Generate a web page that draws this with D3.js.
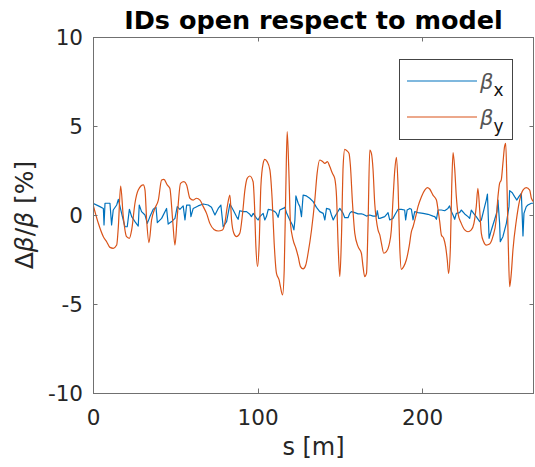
<!DOCTYPE html>
<html>
<head>
<meta charset="utf-8">
<script src="https://cdn.jsdelivr.net/npm/d3@7"></script>
<style>
  body { margin: 0; background: #fff; }
  svg { display: block; }
  text { font-family: "DejaVu Sans", sans-serif; fill: #262626; }
</style>
</head>
<body>
<svg id="chart" width="535" height="467"></svg>
<script>
// Beta-beating along the ring (s in metres, values in %)
const sX = [0.0,4.2,6.3,6.7,7.3,10.3,11.3,12.3,14.4,15.4,17.4,19.4,20.8,22.1,23.5,25.5,27.5,28.1,29.5,31.6,33.0,34.6,36.6,38.3,39.1,41.7,44.7,45.7,47.8,49.8,51.2,52.8,54.8,55.9,56.9,58.9,59.5,60.9,63.9,67.0,70.0,72.0,74.1,76.1,77.7,79.1,81.2,83.2,85.2,87.2,88.2,89.2,91.3,93.3,95.3,96.3,97.4,99.4,100.4,101.4,103.4,104.4,105.4,106.5,108.5,110.5,111.5,112.5,113.5,115.6,116.6,117.6,119.6,121.2,122.1,122.7,123.3,124.7,125.7,126.7,127.7,129.7,131.7,133.8,135.8,137.8,139.9,140.9,141.9,143.9,144.9,146.0,147.0,148.4,150.0,152.0,153.0,155.0,156.0,157.0,159.1,161.1,163.1,164.1,166.2,168.2,170.2,172.2,172.8,173.6,174.3,177.3,178.7,179.3,180.3,182.3,183.4,185.4,187.4,189.4,190.0,190.9,192.5,193.5,194.5,195.5,197.5,200.6,203.6,206.6,207.7,208.7,209.7,211.7,213.7,215.7,216.7,217.8,218.8,219.8,220.8,222.8,223.8,225.9,227.9,228.9,229.9,231.3,232.9,235.0,236.0,238.0,239.0,239.7,240.7,242.1,244.0,245.5,246.1,247.1,247.5,249.1,251.2,252.8,253.2,254.8,256.2,257.6,258.8,260.3,261.3,261.9,263.3,264.3,266.4,267.8];
const betaX = [0.66,0.47,0.37,-0.56,0.66,0.66,-0.56,0.28,0.56,0.88,0.09,-0.66,-0.66,0.32,-0.09,-0.37,-0.62,0.56,0.19,0.00,-0.47,-0.09,0.32,0.43,-0.43,-0.19,0.37,-0.51,-0.37,-0.19,0.47,0.32,0.51,-0.28,0.56,0.56,-0.09,0.37,0.51,0.62,0.56,0.43,0.00,0.37,0.56,-0.66,-0.37,0.62,0.28,-0.09,-0.24,0.24,0.19,0.19,0.04,-0.09,0.09,-0.19,-0.28,-0.09,0.09,-0.28,-0.09,0.32,0.28,0.19,0.09,-0.13,0.28,0.37,0.43,0.13,-0.28,-0.56,-0.84,-0.28,1.07,0.66,0.47,-0.09,1.12,1.07,0.94,0.75,0.43,0.19,0.09,-0.28,0.37,0.32,0.00,-0.28,-0.09,0.13,0.37,0.09,-0.15,-0.15,0.09,0.19,0.13,0.06,0.06,0.04,-0.06,0.00,-0.06,-0.06,0.24,-0.19,-0.19,-0.09,0.06,0.13,-0.28,-0.19,0.00,0.32,0.32,0.28,-0.28,0.28,0.37,0.32,-0.28,0.19,0.13,0.09,0.04,-0.06,-0.09,-0.24,0.28,0.28,0.24,0.37,0.51,0.19,0.00,-0.24,0.09,0.13,0.28,0.06,-0.09,-0.19,0.28,0.09,-0.09,-0.37,-0.28,0.47,0.84,1.18,-1.31,-0.84,-0.28,0.19,0.84,-0.47,-1.50,-1.22,-0.47,0.47,1.37,1.25,1.03,0.84,1.03,1.22,-1.18,0.09,0.47,0.56,0.66,0.66];

const sY = [0.0,3.2,6.3,8.3,10.3,12.3,14.4,15.4,16.8,18.4,20.4,22.1,23.5,25.5,27.5,30.6,31.6,32.6,34.0,35.6,37.6,39.7,41.7,43.1,45.1,46.7,48.4,49.8,51.2,53.2,55.3,56.9,58.9,60.9,62.9,65.0,67.0,69.0,71.0,73.5,76.1,78.7,80.1,81.6,83.2,84.2,85.6,87.2,89.2,90.9,92.3,93.7,95.3,97.3,98.1,99.0,100.0,101.0,102.0,103.4,104.4,105.8,107.5,108.9,110.1,111.5,113.1,113.9,115.2,116.2,117.2,118.0,119.0,120.0,121.6,123.3,124.7,126.1,127.7,129.3,130.7,132.8,134.8,136.2,137.8,139.5,140.9,142.5,143.9,145.5,146.9,148.0,149.0,150.0,151.0,152.0,153.0,154.4,155.6,156.4,157.7,159.1,161.1,163.1,164.1,165.1,166.2,167.2,168.2,169.2,170.2,171.2,172.2,173.2,174.3,175.3,176.7,178.3,179.9,181.3,182.3,183.4,184.4,185.4,186.4,187.4,188.8,190.4,192.1,193.5,194.5,196.1,197.5,199.6,201.6,203.2,204.6,206.6,208.7,209.7,210.7,211.7,213.1,214.3,215.3,216.1,217.2,218.0,218.8,219.8,220.8,221.8,223.8,225.9,227.9,229.9,231.5,232.9,233.9,235.0,236.0,237.4,239.0,241.0,243.0,245.0,246.1,247.1,248.1,249.1,250.1,250.8,251.6,252.4,253.2,254.2,255.2,257.3,259.3,261.3,263.3,265.4,266.4,267.8];
const betaY = [0.60,-0.45,-1.22,-1.50,-1.82,-1.87,-1.69,-0.66,1.63,-0.09,-1.22,-1.31,-0.84,0.66,1.40,1.69,1.40,-0.28,-1.55,-0.28,0.37,0.84,1.97,2.00,1.69,1.50,-0.28,-1.69,-0.09,1.78,1.87,1.69,0.94,0.84,0.94,0.84,0.47,0.09,-0.47,-0.81,-0.90,-0.84,-0.47,0.47,1.12,-0.28,-1.03,-1.22,-1.03,0.09,1.40,2.06,2.19,1.87,0.66,-1.78,-2.90,-1.59,1.59,2.90,3.13,3.00,2.53,0.84,-1.59,-3.28,-3.65,-4.03,-4.49,-3.09,1.59,4.68,2.53,-0.47,-1.40,-1.87,-2.34,-2.90,-3.03,-2.81,-2.15,-0.84,0.84,2.34,3.09,3.00,2.90,3.00,2.72,2.34,2.06,1.03,-1.78,-3.46,-1.22,2.72,3.69,3.60,3.46,2.81,0.66,-1.03,-1.78,-2.15,-2.90,-3.46,-3.28,-0.28,3.65,3.46,2.53,0.66,-0.28,-0.84,-1.12,-1.59,-2.15,-2.06,-1.69,-0.84,0.84,2.53,3.24,1.59,-1.78,-3.05,-2.90,-2.53,-1.78,-0.94,-0.66,-0.09,0.47,1.03,1.40,1.54,1.46,1.12,0.84,0.28,-0.37,-1.12,-1.31,-1.78,-2.53,-3.28,-1.78,1.59,3.50,2.62,1.03,0.09,-0.47,-0.84,-0.94,-0.84,-0.47,0.47,1.50,0.28,-1.03,-1.50,-1.69,-1.63,-1.22,-0.28,1.03,1.78,1.97,2.90,3.84,4.03,1.59,-1.78,-4.03,-3.28,-1.97,-0.28,0.84,1.40,1.54,1.40,0.94,0.75];

const xTicks = [0, 100, 200];
const yTicks = [-10, -5, 0, 5, 10];
const seriesNames = ["x", "y"];
const seriesColors = ["#0072BD", "#D95319"];

const svg = d3.select("#chart");
const plot = { left: 93, top: 37, right: 534, bottom: 393 };
const axisColor = "#707070";
const tickLen = 4.5;

const x = d3.scaleLinear().domain([0, 268]).range([plot.left, plot.right]);
const y = d3.scaleLinear().domain([-10, 10]).range([plot.bottom, plot.top]);

svg.append("defs").append("clipPath").attr("id", "plotClip")
  .append("rect")
  .attr("x", plot.left).attr("y", plot.top)
  .attr("width", plot.right - plot.left).attr("height", plot.bottom - plot.top);

// Series
const lineX = d3.line().x((d, i) => x(sX[i])).y(d => y(d));
const lineY = d3.line().x((d, i) => x(sY[i])).y(d => y(d)).curve(d3.curveMonotoneX);

const g = svg.append("g").attr("clip-path", "url(#plotClip)");
g.append("path").attr("d", lineX(betaX))
  .attr("fill", "none").attr("stroke", seriesColors[0]).attr("stroke-width", 1.2)
  .attr("stroke-linejoin", "round");
g.append("path").attr("d", lineY(betaY))
  .attr("fill", "none").attr("stroke", seriesColors[1]).attr("stroke-width", 1.2)
  .attr("stroke-linejoin", "round");

// Axes: bottom and left carry labels, top and right only ticks
const bottomAxis = d3.axisBottom(x).tickValues(xTicks).tickSize(0).tickPadding(0).tickFormat(d3.format("d"));
const leftAxis = d3.axisLeft(y).tickValues(yTicks).tickSize(0).tickPadding(0).tickFormat(d3.format("d"));

const gb = svg.append("g").attr("transform", `translate(0,${plot.bottom})`).call(bottomAxis);
gb.select(".domain").remove();
gb.selectAll("text").attr("y", 32).attr("dy", 0).style("font-size", "21.5px");

const gl = svg.append("g").attr("transform", `translate(${plot.left},0)`).call(leftAxis);
gl.select(".domain").remove();
gl.selectAll("text").attr("x", -10).attr("dy", "0.36em").style("font-size", "21.5px")
  .text(d => d < 0 ? "-" + Math.abs(d) : d);

// Inward ticks on all four sides
const ticks = svg.append("g").attr("stroke", axisColor).attr("stroke-width", 1);
xTicks.forEach(v => {
  const px = Math.round(x(v)) + 0.5;
  ticks.append("line").attr("x1", px).attr("x2", px).attr("y1", plot.bottom).attr("y2", plot.bottom - tickLen);
  ticks.append("line").attr("x1", px).attr("x2", px).attr("y1", plot.top).attr("y2", plot.top + tickLen);
});
yTicks.forEach(v => {
  const py = Math.round(y(v)) + 0.5;
  ticks.append("line").attr("x1", plot.left).attr("x2", plot.left + tickLen).attr("y1", py).attr("y2", py);
  ticks.append("line").attr("x1", plot.right).attr("x2", plot.right - tickLen).attr("y1", py).attr("y2", py);
});

// Box
svg.append("rect")
  .attr("x", plot.left + 0.5).attr("y", plot.top + 0.5)
  .attr("width", plot.right - plot.left - 1).attr("height", plot.bottom - plot.top)
  .attr("fill", "none").attr("stroke", axisColor).attr("stroke-width", 1);

// Title
svg.append("text")
  .attr("x", (plot.left + plot.right) / 2).attr("y", 29)
  .attr("text-anchor", "middle")
  .style("font-size", "25.5px").style("font-weight", "bold")
  .style("fill", "#000")
  .text("IDs open respect to model");

// Axis labels
svg.append("text")
  .attr("x", (plot.left + plot.right) / 2).attr("y", 455)
  .attr("text-anchor", "middle")
  .style("font-size", "24px")
  .text("s [m]");

const yl = svg.append("text")
  .attr("transform", `translate(33,${(plot.top + plot.bottom) / 2}) rotate(-90)`)
  .attr("text-anchor", "middle")
  .style("font-size", "25px");
yl.append("tspan").text("Δ");
yl.append("tspan").style("font-style", "italic").text("β");
yl.append("tspan").text("/");
yl.append("tspan").style("font-style", "italic").text("β");
yl.append("tspan").text(" [%]");

// Legend
const leg = svg.append("g");
leg.append("rect").attr("x", 399.5).attr("y", 59.5).attr("width", 113).attr("height", 80)
  .attr("fill", "#fff").attr("stroke", "#444").attr("stroke-width", 1);
seriesNames.forEach((name, i) => {
  const ly = 81 + i * 36;
  leg.append("line").attr("x1", 407).attr("x2", 477).attr("y1", ly).attr("y2", ly)
    .attr("stroke", seriesColors[i]).attr("stroke-width", 1.2);
  const t = leg.append("text").attr("x", 480).attr("y", ly + 8).style("font-size", "21px");
  t.append("tspan").style("font-style", "italic").style("fill", "#555").text("β");
  t.append("tspan").attr("dy", 7).style("font-size", "17px").style("fill", "#111").text(name);
});
</script>
</body>
</html>
